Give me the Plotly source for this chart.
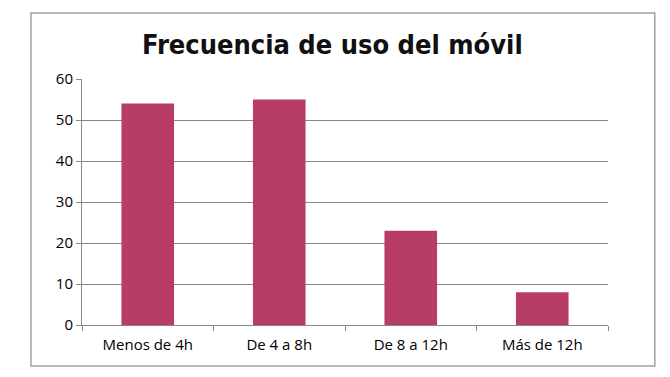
import plotly.graph_objects as go

categories = ["Menos de 4h", "De 4 a 8h", "De 8 a 12h", "Más de 12h"]
values = [54, 55, 23, 8]
y_ticks = [0, 10, 20, 30, 40, 50, 60]

fig = go.Figure(go.Bar(x=categories, y=values, marker=dict(color="#B83C68", line=dict(width=0))))

fig.update_layout(
    width=662, height=369,
    margin=dict(l=74, r=62, t=71, b=52),
    paper_bgcolor="white", plot_bgcolor="white",
    bargap=0.6,
    showlegend=False,
    title=dict(text="<b>Frecuencia de uso del móvil</b>", x=0.490, xanchor="center", y=0.902, yanchor="middle",
               font=dict(family="DejaVu Sans Condensed", size=27, color="#111111")),
    font=dict(family="Open Sans", size=15, color="black"),
    shapes=[dict(type="rect", xref="paper", yref="paper", x0=-0.097, x1=1.089, y0=-0.167, y1=1.268,
                 line=dict(color="#A0A0A0", width=1.5), fillcolor="rgba(0,0,0,0)", layer="below")],
)
fig.update_xaxes(showline=True, linecolor="#888888", linewidth=1, ticks="outside", tickson="boundaries",
                 ticklen=5, tickcolor="#888888", showgrid=False, tickfont=dict(size=15),
                 ticklabelstandoff=6)
fig.update_yaxes(range=[0, 60], tickvals=y_ticks, showline=True, linecolor="#888888", linewidth=1,
                 ticks="outside", ticklen=5, tickcolor="#888888", showgrid=True, gridcolor="#888888",
                 gridwidth=1, zeroline=False, tickfont=dict(size=15))

fig.write_html("out.html")
